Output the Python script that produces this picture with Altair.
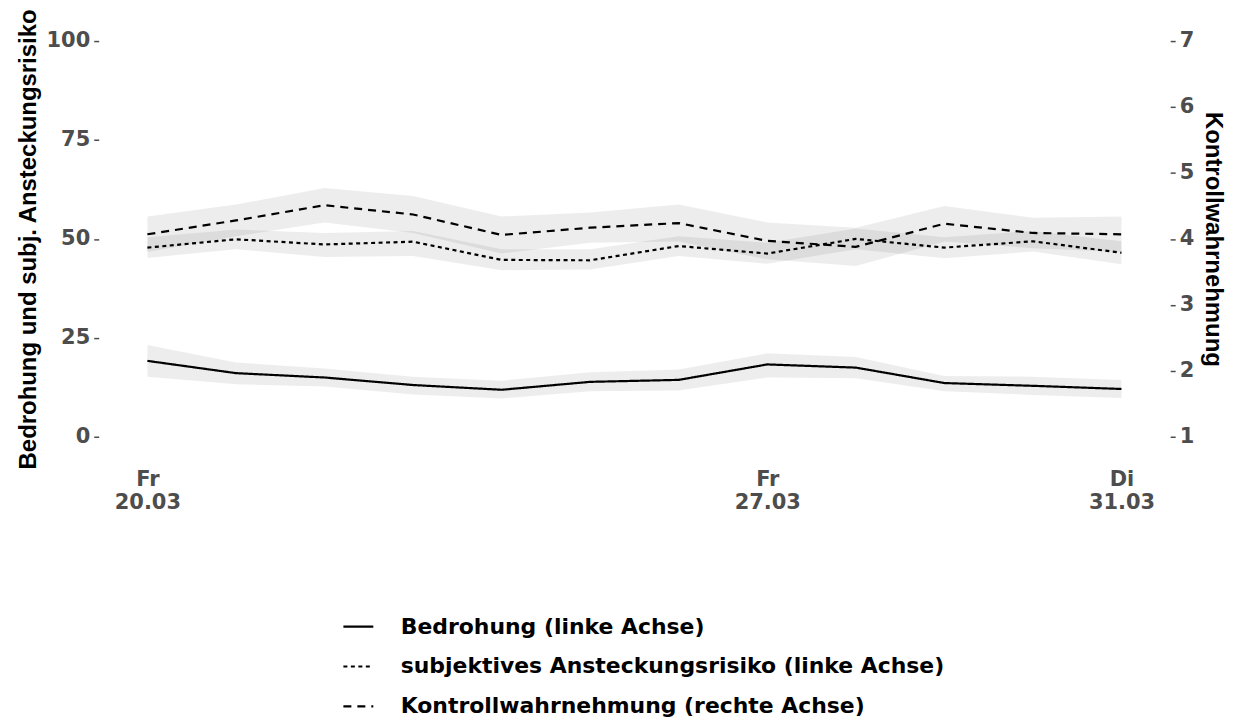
import json
import altair as alt
import pandas as pd

# ---- data ----
dates = ["2020-03-20", "2020-03-21", "2020-03-22", "2020-03-23", "2020-03-24", "2020-03-25",
         "2020-03-26", "2020-03-27", "2020-03-28", "2020-03-29", "2020-03-30", "2020-03-31"]

bedrohung = [19.2, 16.1, 15.0, 13.1, 11.9, 13.9, 14.4, 18.3, 17.5, 13.6, 12.9, 12.1]
bedrohung_lo = [15.2, 13.3, 12.7, 10.7, 9.7, 11.5, 11.7, 15.0, 14.8, 11.5, 10.6, 9.8]
bedrohung_hi = [23.2, 18.8, 17.3, 15.2, 14.2, 16.3, 17.0, 21.1, 20.2, 15.4, 15.2, 14.4]

risiko = [47.8, 49.9, 48.6, 49.3, 44.7, 44.6, 48.2, 46.3, 50.0, 47.8, 49.4, 46.5]
risiko_lo = [45.2, 47.4, 45.4, 45.7, 42.1, 42.3, 45.7, 43.7, 47.4, 45.1, 46.8, 43.6]
risiko_hi = [50.4, 52.4, 51.5, 52.0, 47.4, 47.4, 50.7, 49.0, 52.6, 50.4, 52.0, 49.4]

kontrolle = [4.07, 4.28, 4.51, 4.37, 4.06, 4.17, 4.24, 3.97, 3.88, 4.23, 4.09, 4.07]
kontrolle_lo = [3.80, 4.04, 4.25, 4.09, 3.78, 3.94, 3.96, 3.69, 3.59, 3.96, 3.86, 3.80]
kontrolle_hi = [4.34, 4.52, 4.77, 4.65, 4.34, 4.40, 4.52, 4.25, 4.17, 4.50, 4.32, 4.34]

series_names = ["Bedrohung (linke Achse)",
                "subjektives Ansteckungsrisiko (linke Achse)",
                "Kontrollwahrnehmung (rechte Achse)"]

tick_dates = ["2020-03-20", "2020-03-27", "2020-03-31"]
tick_labels = [["Fr", "20.03"], ["Fr", "27.03"], ["Di", "31.03"]]

left_ticks = [0, 25, 50, 75, 100]
right_ticks = [1, 2, 3, 4, 5, 6, 7]

# ---- tables ----
d0 = pd.to_datetime(dates[0])
day = [(pd.to_datetime(d) - d0).days for d in dates]
tick_days = [(pd.to_datetime(d) - d0).days for d in tick_dates]

left_df = pd.concat([
    pd.DataFrame({"day": day, "value": bedrohung, "lo": bedrohung_lo, "hi": bedrohung_hi,
                  "series": series_names[0]}),
    pd.DataFrame({"day": day, "value": risiko, "lo": risiko_lo, "hi": risiko_hi,
                  "series": series_names[1]}),
])
right_df = pd.DataFrame({"day": day, "value": kontrolle, "lo": kontrolle_lo, "hi": kontrolle_hi,
                         "series": series_names[2]})

label_expr = " : ".join(
    f"datum.value == {d} ? {json.dumps(l)}" for d, l in zip(tick_days, tick_labels)
) + " : ''"

TITLE_FONT = "Liberation Sans"
LABEL_FONT = "DejaVu Sans"
GREY = "#4D4D4D"

x_enc = alt.X("day:Q",
              scale=alt.Scale(domain=[-0.55, 11.55], nice=False, zero=False),
              axis=alt.Axis(values=tick_days, labelExpr=label_expr, title=None, ticks=False,
                            domain=False, grid=False, labelPadding=12, labelLineHeight=23,
                            labelFontSize=21, labelFlush=False))

left_scale = alt.Scale(domain=[-5, 105], nice=False, zero=False)
right_scale = alt.Scale(domain=[0.7, 7.3], nice=False, zero=False)

left_axis = alt.Axis(orient="left", values=left_ticks, title="Bedrohung und subj. Ansteckungsrisiko",
                     titleFontSize=24, titlePadding=6, labelFontSize=21, tickSize=5,
                     labelPadding=4, grid=False, domain=False)
right_axis = alt.Axis(orient="right", values=right_ticks, title="Kontrollwahrnehmung",
                      titleFontSize=24, titlePadding=7, labelFontSize=21, tickSize=5,
                      labelPadding=4, grid=False, domain=False)

dash_scale = alt.Scale(domain=series_names, range=[[1, 0], [4, 3.5], [8, 6]])
legend = alt.Legend(title=None, orient="none", legendX=244, legendY=591, direction="vertical",
                    symbolType="stroke", symbolSize=900, symbolStrokeWidth=2.2,
                    symbolStrokeColor="black", labelFont=LABEL_FONT, labelFontWeight="bold",
                    labelFontSize=22, labelColor="black", labelOffset=26, rowPadding=12,
                    padding=0, labelLimit=900)

band_left = alt.Chart(left_df).mark_area(color="black", opacity=0.07).encode(
    x=x_enc,
    y=alt.Y("lo:Q", scale=left_scale, axis=left_axis),
    y2="hi:Q",
    detail="series:N",
)
band_right = alt.Chart(right_df).mark_area(color="black", opacity=0.07).encode(
    x=x_enc,
    y=alt.Y("lo:Q", scale=right_scale, axis=right_axis),
    y2="hi:Q",
)
line_left = alt.Chart(left_df).mark_line(color="black", strokeWidth=2.2).encode(
    x=x_enc,
    y=alt.Y("value:Q", scale=left_scale, axis=None),
    strokeDash=alt.StrokeDash("series:N", scale=dash_scale, legend=legend),
)
line_right = alt.Chart(right_df).mark_line(color="black", strokeWidth=2.2).encode(
    x=x_enc,
    y=alt.Y("value:Q", scale=right_scale, axis=None),
    strokeDash=alt.StrokeDash("series:N", scale=dash_scale, legend=legend),
)

chart = alt.layer(band_left, band_right, line_left, line_right).resolve_scale(
    y="independent"
).properties(
    width=1075, height=437,
    padding={"left": 91, "top": 12, "right": 58, "bottom": 262},
    autosize=alt.AutoSizeParams(type="none"),
).configure_view(stroke=None).configure_axis(
    labelFont=LABEL_FONT, labelFontWeight="bold", labelColor=GREY,
    titleFont=TITLE_FONT, titleFontWeight="bold", titleColor="black",
    tickColor=GREY, tickWidth=1.5,
)

chart.save("out.html", embed_options={"renderer": "svg", "actions": False})
